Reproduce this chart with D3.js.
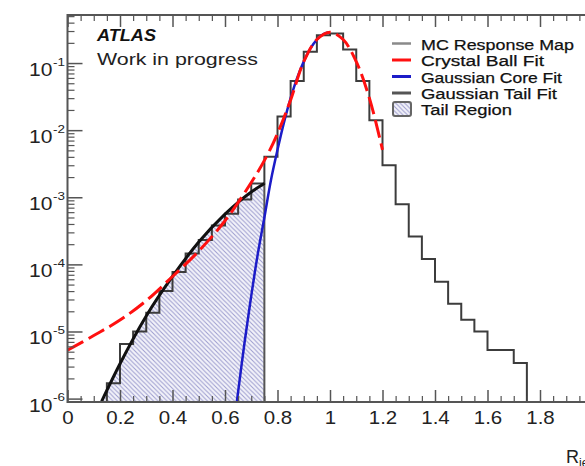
<!DOCTYPE html>
<html><head><meta charset="utf-8">
<script src="https://cdn.jsdelivr.net/npm/d3@7"></script>
<style>body{margin:0;background:#fff;overflow:hidden} svg{display:block;font-family:"Liberation Sans",Arial,sans-serif}</style>
</head><body><svg id="c" width="585" height="466"></svg>
<script>
// ---------- data ----------
const binLow = [0.00,0.05,0.10,0.15,0.20,0.25,0.30,0.35,0.40,0.45,0.50,0.55,0.60,0.65,0.70,0.75,0.80,0.85,0.90,0.95,
                1.00,1.05,1.10,1.15,1.20,1.25,1.30,1.35,1.40,1.45,1.50,1.55,1.60,1.65,1.70,1.75,1.80,1.85,1.90,1.95];
const binHigh = 2.0;
const mcResponse = [0,0,0,1.7e-6,6.5e-6,1.0e-5,1.9e-5,4.0e-5,7.7e-5,1.45e-4,2.3e-4,3.8e-4,5.7e-4,9.3e-4,1.6e-3,4.0e-3,
                1.6e-2,5.4e-2,0.148,0.26,0.275,0.159,0.054,0.014,3.0e-3,7.9e-4,2.6e-4,1.2e-4,5.5e-5,2.6e-5,1.5e-5,1.0e-5,
                5.3e-6,5.3e-6,3.4e-6,0,0,0,0,0];
const cbFitX = [0,0.1,0.2,0.3,0.4,0.5,0.6,0.7,0.76,0.8,0.85,0.9,0.95,1.0,1.05,1.1,1.15,1.2];
const cbFitY = [5.25e-6,8.7e-6,1.48e-5,2.88e-5,6.6e-5,1.58e-4,4.47e-4,1.66e-3,4.17e-3,8.9e-3,0.0282,0.105,0.224,0.288,0.224,0.105,0.030,5.1e-3];
const coreFitX = [0.645,0.675,0.7,0.725,0.75,0.775,0.8,0.825,0.85,0.875,0.9,0.925,0.95,0.975,1.0];
const coreFitY = [8.9e-7,7.1e-6,3.4e-5,1.44e-4,5.0e-4,1.8e-3,5.1e-3,0.0132,0.030,0.060,0.105,0.164,0.224,0.271,0.288];
const tailFitX = [0.13,0.2,0.3,0.4,0.5,0.6,0.7,0.75];
const tailFitY = [9.1e-7,3.3e-6,1.7e-5,6.6e-5,2.15e-4,5.6e-4,1.2e-3,1.6e-3];
const tailRegion = [0, 0.75];
const xRange = [0, 2];
const yRange = [8.9e-7, 0.52];
const xTicks = [0,0.2,0.4,0.6,0.8,1,1.2,1.4,1.6,1.8,2];
const xTickLabels = ["0","0.2","0.4","0.6","0.8","1","1.2","1.4","1.6","1.8",""];
const yTicks = [1e-6,1e-5,1e-4,1e-3,1e-2,1e-1];
const yTickExp = ["-6","-5","-4","-3","-2","-1"];
const legendLabels = ["MC Response Map","Crystal Ball Fit","Gaussian Core Fit","Gaussian Tail Fit","Tail Region"];
const legendWidths = [153,123,141,136,91];

// ---------- layout ----------
const L = 67.5, R = 592.5, T = 15, B = 402;
const svg = d3.select("#c");
const x = d3.scaleLinear().domain(xRange).range([L, R]);
const y = d3.scaleLog().domain(yRange).range([B, T]);
const yc = v => y(Math.max(v || yRange[0], yRange[0]));

const defs = svg.append("defs");
defs.append("clipPath").attr("id","clip").append("rect").attr("x",L).attr("y",T).attr("width",R-L).attr("height",B-T);
const pat = defs.append("pattern").attr("id","hatch").attr("patternUnits","userSpaceOnUse").attr("width",4.5).attr("height",4.5);
pat.append("rect").attr("width",4.5).attr("height",4.5).attr("fill","#f3f3fa");
pat.append("path").attr("d","M0,0L4.5,4.5M-1,3.5L1,5.5M3.5,-1L5.5,1").attr("stroke","#9c9cce").attr("stroke-width",1);

const plot = svg.append("g").attr("clip-path","url(#clip)");

// tail region hatched area (under the tail fit)
const tailPts = tailFitX.map((v,i)=>[v, tailFitY[i]]);
plot.append("path")
  .datum(tailPts)
  .attr("d", d3.area().x(d=>x(d[0])).y0(B).y1(d=>yc(d[1])).curve(d3.curveMonotoneX))
  .attr("fill","url(#hatch)");
plot.append("line").attr("x1",x(tailRegion[1])).attr("x2",x(tailRegion[1]))
  .attr("y1",B).attr("y2",yc(tailFitY[tailFitY.length-1]))
  .attr("stroke","#555").attr("stroke-width",2);

// histogram
const histPts = binLow.map((v,i)=>[v, mcResponse[i]]).concat([[binHigh, mcResponse[mcResponse.length-1]]]);
plot.append("path").datum(histPts)
  .attr("d", d3.line().x(d=>x(d[0])).y(d=>yc(d[1])).curve(d3.curveStepAfter))
  .attr("fill","none").attr("stroke","#3c3c3c").attr("stroke-width",2);

// fits
const lineGen = d3.line().x(d=>x(d[0])).y(d=>yc(d[1])).curve(d3.curveCatmullRom);
plot.append("path").datum(coreFitX.map((v,i)=>[v, coreFitY[i]]))
  .attr("d", lineGen).attr("fill","none").attr("stroke","#1c1cc8").attr("stroke-width",2.5);
plot.append("path").datum(tailPts)
  .attr("d", d3.line().x(d=>x(d[0])).y(d=>yc(d[1])).curve(d3.curveMonotoneX))
  .attr("fill","none").attr("stroke","#111").attr("stroke-width",3);
plot.append("path").datum(cbFitX.map((v,i)=>[v, cbFitY[i]]))
  .attr("d", lineGen).attr("fill","none").attr("stroke","#ff1010").attr("stroke-width",3)
  .attr("stroke-dasharray","18,6");

// ---------- axes ----------
const axCol = "#555";
const stretch = 1.17;
// bottom major
const gx = svg.append("g").attr("transform",`translate(0,${B})`)
  .call(d3.axisBottom(x).tickValues(xTicks).tickSize(-12).tickPadding(10).tickFormat((d,i)=>xTickLabels[i]));
gx.select(".domain").remove();
gx.selectAll("line").attr("stroke",axCol).attr("stroke-width",1.5);
gx.selectAll("text").attr("font-size",17.5).attr("fill","#222").attr("font-family","Liberation Sans, Arial, sans-serif")
  .attr("transform",`scale(${stretch},1)`);
// bottom minor
const xMinor = d3.range(0, 2.0001, 0.05).filter(v => Math.abs(v*5 - Math.round(v*5)) > 1e-6);
const gxm = svg.append("g").attr("transform",`translate(0,${B})`)
  .call(d3.axisBottom(x).tickValues(xMinor).tickSize(-6).tickFormat(""));
gxm.select(".domain").remove();
gxm.selectAll("line").attr("stroke",axCol).attr("stroke-width",1.2);
// top ticks
const gt = svg.append("g").attr("transform",`translate(0,${T})`)
  .call(d3.axisTop(x).tickValues(xTicks).tickSize(-12).tickFormat(""));
gt.select(".domain").remove();
gt.selectAll("line").attr("stroke",axCol).attr("stroke-width",1.5);
const gtm = svg.append("g").attr("transform",`translate(0,${T})`)
  .call(d3.axisTop(x).tickValues(xMinor).tickSize(-6).tickFormat(""));
gtm.select(".domain").remove();
gtm.selectAll("line").attr("stroke",axCol).attr("stroke-width",1.2);

// left major
const gy = svg.append("g").attr("transform",`translate(${L},0)`)
  .call(d3.axisLeft(y).tickValues(yTicks).tickSize(-15).tickFormat(""));
gy.select(".domain").remove();
gy.selectAll("line").attr("stroke",axCol).attr("stroke-width",1.5);
gy.selectAll(".tick").each(function(d,i){
  const g = d3.select(this);
  g.append("text").attr("text-anchor","end").attr("font-size",18).attr("fill","#222")
    .attr("transform",`translate(-15,12.5) scale(${stretch},1)`).text("10");
  g.append("text").attr("text-anchor","start").attr("font-size",11.5).attr("fill","#222")
    .attr("transform",`translate(-14.5,2) scale(${stretch},1)`).text(yTickExp[i]);
});
// left minor
const yMinor = [];
for (let e = -7; e <= 0; e++) for (let m = 2; m <= 9; m++) { const v = m*Math.pow(10,e); if (v>yRange[0] && v<yRange[1]) yMinor.push(v); }
const gym = svg.append("g").attr("transform",`translate(${L},0)`)
  .call(d3.axisLeft(y).tickValues(yMinor).tickSize(-7).tickFormat(""));
gym.select(".domain").remove();
gym.selectAll("line").attr("stroke",axCol).attr("stroke-width",1.2);

// frame
svg.append("rect").attr("x",L).attr("y",T).attr("width",R-L).attr("height",B-T)
  .attr("fill","none").attr("stroke",axCol).attr("stroke-width",2);

// axis title (cut by the right edge as in the reference)
const xt = svg.append("text").attr("x",566).attr("y",463).attr("font-size",18).attr("fill","#222");
xt.append("tspan").text("R");
xt.append("tspan").attr("font-size",12).attr("dy",4).text("jet");

// ---------- labels ----------
svg.append("text").attr("x",97).attr("y",41).attr("font-size",16).attr("font-weight","bold").attr("font-style","italic")
  .attr("fill","#111").attr("textLength",59).attr("lengthAdjust","spacingAndGlyphs").text("ATLAS");
svg.append("text").attr("x",97).attr("y",65).attr("font-size",16).attr("fill","#222")
  .attr("textLength",161).attr("lengthAdjust","spacingAndGlyphs").text("Work in progress");

// ---------- legend ----------
const legY = [43.5, 60, 76.5, 93, 109];
const legStyles = [
  {stroke:"#8a8a8a", w:2.5},
  {stroke:"#ff1010", w:3},
  {stroke:"#1c1cc8", w:3},
  {stroke:"#555", w:3},
  null
];
const lg = svg.append("g");
legendLabels.forEach((lab,i)=>{
  const st = legStyles[i];
  if (st) {
    lg.append("line").attr("x1",392).attr("x2",411).attr("y1",legY[i]).attr("y2",legY[i])
      .attr("stroke",st.stroke).attr("stroke-width",st.w);
  } else {
    lg.append("rect").attr("x",393).attr("y",legY[i]-7).attr("width",18).attr("height",14).attr("rx",2)
      .attr("fill","url(#hatch)").attr("stroke","#666").attr("stroke-width",2);
  }
  lg.append("text").attr("x",421).attr("y",legY[i]+6).attr("font-size",15.5).attr("fill","#111")
    .attr("stroke","#111").attr("stroke-width",0.25)
    .attr("textLength",legendWidths[i]).attr("lengthAdjust","spacingAndGlyphs").text(lab);
});
</script>
</body></html>
